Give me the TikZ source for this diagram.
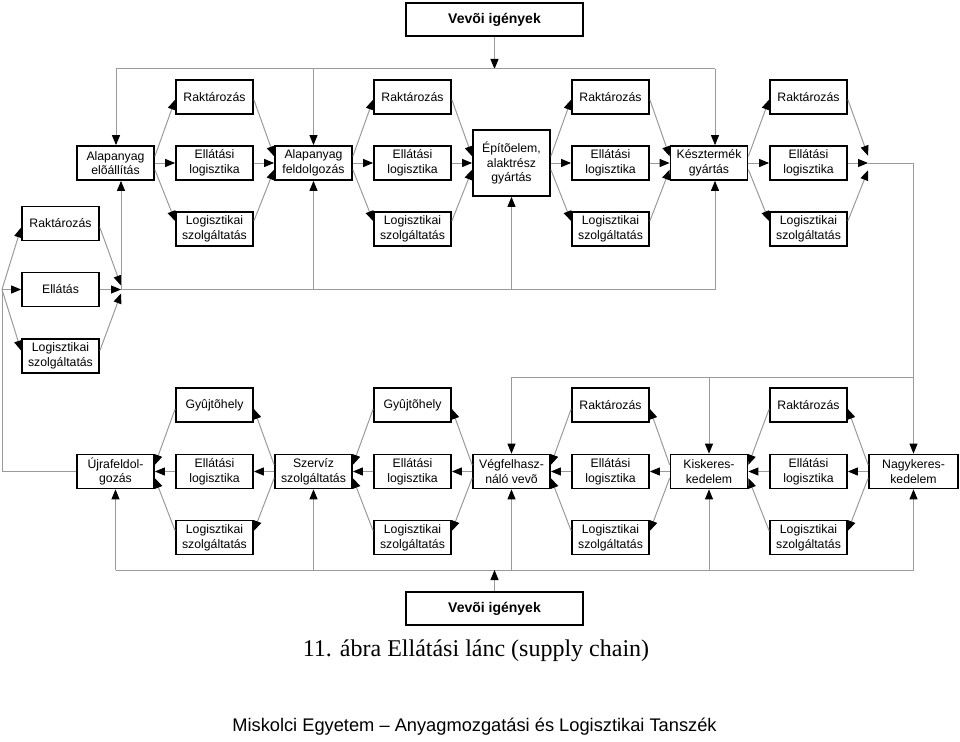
\documentclass[tikz,border=0pt]{standalone}
\usepackage{fontspec}
\setmainfont{Liberation Sans}
\newfontfamily\capserif{Liberation Serif}
\usetikzlibrary{arrows.meta}
\definecolor{lgray}{HTML}{9A9A9A}
\begin{document}
\begin{tikzpicture}[x=0.75pt,y=-0.75pt,
  box/.style={draw,line width=1.3pt,minimum width=57.75pt,minimum height=25.5pt,inner sep=0pt,align=center,font=\fontsize{9.2}{11}\selectfont},
  vbox/.style={draw,line width=2pt,minimum width=132.75pt,minimum height=24.75pt,inner sep=0pt,font=\fontsize{10.5}{12}\selectfont\bfseries},
  conn/.style={draw=lgray,line width=0.75pt},
  arr/.style={conn,-{Triangle[length=7.5pt,width=6pt,color=black]}}]
\path[use as bounding box] (0,0) rectangle (960,742);

% ---------- upper part ----------
\node[vbox] (VT) at (494.5,19.5) {Vevõi igények};

\node[box] (A1) at (115.5,163) {Alapanyag\\elõállítás};
\node[box] (E1) at (214.5,163) {Ellátási\\logisztika};
\node[box] (A2) at (313.5,163) {Alapanyag\\feldolgozás};
\node[box] (E2) at (412.5,163) {Ellátási\\logisztika};
\node[box,minimum height=49.5pt] (A3) at (511.5,163) {Építõelem,\\alaktrész\\gyártás};
\node[box] (E3) at (610.5,163) {Ellátási\\logisztika};
\node[box] (A4) at (709,163) {Késztermék\\gyártás};
\node[box] (E4) at (808.5,163) {Ellátási\\logisztika};

\node[box] (R1) at (214.5,97) {Raktározás};
\node[box] (R2) at (412.5,97) {Raktározás};
\node[box] (R3) at (610.5,97) {Raktározás};
\node[box] (R4) at (808.5,97) {Raktározás};

\node[box] (L1) at (214.5,229) {Logisztikai\\szolgáltatás};
\node[box] (L2) at (412.5,229) {Logisztikai\\szolgáltatás};
\node[box] (L3) at (610.5,229) {Logisztikai\\szolgáltatás};
\node[box] (L4) at (808.5,229) {Logisztikai\\szolgáltatás};

\node[box] (LR) at (60.5,223.5) {Raktározás};
\node[box] (LE) at (60.5,289.5) {Ellátás};
\node[box] (LL) at (60.5,356) {Logisztikai\\szolgáltatás};

% ---------- lower part ----------
\node[box] (B0) at (115.5,471.5) {Újrafeldol-\\gozás};
\node[box] (F1) at (214.5,471.5) {Ellátási\\logisztika};
\node[box] (B1) at (313.5,471.5) {Szervíz\\szolgáltatás};
\node[box] (F2) at (412.5,471.5) {Ellátási\\logisztika};
\node[box] (B2) at (511.5,471.5) {Végfelhasz-\\náló vevõ};
\node[box] (F3) at (610.5,471.5) {Ellátási\\logisztika};
\node[box] (B3) at (709,471.5) {Kiskeres-\\kedelem};
\node[box] (F4) at (808.5,471.5) {Ellátási\\logisztika};
\node[box,minimum width=66.75pt] (B4) at (913.5,471.5) {Nagykeres-\\kedelem};

\node[box] (G1) at (214.5,405) {Gyûjtõhely};
\node[box] (G2) at (412.5,405) {Gyûjtõhely};
\node[box] (G3) at (610.5,405) {Raktározás};
\node[box] (G4) at (808.5,405) {Raktározás};

\node[box] (S1) at (214.5,537.5) {Logisztikai\\szolgáltatás};
\node[box] (S2) at (412.5,537.5) {Logisztikai\\szolgáltatás};
\node[box] (S3) at (610.5,537.5) {Logisztikai\\szolgáltatás};
\node[box] (S4) at (808.5,537.5) {Logisztikai\\szolgáltatás};

\node[vbox] (VB) at (494.5,608.5) {Vevõi igények};

\node[font=\capserif\fontsize{18}{20}\selectfont] (CAP) at (476,651) {11. ábra Ellátási lánc (supply chain)};
\node[font=\fontsize{13.7}{15}\selectfont] (FOOT) at (474.5,727) {Miskolci Egyetem -- Anyagmozgatási és Logisztikai Tanszék};

% ---------- junction coordinates ----------
\coordinate (jt) at (495,69);
\coordinate (jL) at (116,69);
\coordinate (jR) at (715,69);
\coordinate (pL) at (2,289.5);
\coordinate (cL) at (121,289.5);
\coordinate (kx) at (715,289.5);
\coordinate (cR) at (868,163);
\coordinate (dM) at (913,377);
\coordinate (eY) at (0,570);

% top feedback
\draw[arr] (VT.south) -- (VT.south |- jt);
\draw[conn] (jL) -- (jR);
\draw[arr] (jL) -- (jL |- A1.north);
\draw[arr] (A2.north |- jt) -- (A2.north);
\draw[arr] (jR) -- (jR |- A4.north);

% row-1 fans
\foreach \s/\r/\e/\l/\t in {A1/R1/E1/L1/A2, A2/R2/E2/L2/A3, A3/R3/E3/L3/A4}{
  \draw[arr] ([yshift=5pt]\s.east) -- ([yshift=-2pt]\r.west);
  \draw[arr] (\s.east) -- (\e.west);
  \draw[arr] ([yshift=-5pt]\s.east) -- ([yshift=6pt]\l.west);
  \draw[arr] ([yshift=-2pt]\r.east) -- ([yshift=5pt]\t.west);
  \draw[arr] (\e.east) -- (\t.west);
  \draw[arr] ([yshift=6pt]\l.east) -- ([yshift=-5pt]\t.west);
}
\draw[arr] ([yshift=5pt]A4.east) -- ([yshift=-2pt]R4.west);
\draw[arr] (A4.east) -- (E4.west);
\draw[arr] ([yshift=-5pt]A4.east) -- ([yshift=6pt]L4.west);
\draw[arr] ([yshift=-2pt]R4.east) -- ([yshift=5.5pt]cR);
\draw[arr] (E4.east) -- (cR);
\draw[arr] ([yshift=6pt]L4.east) -- ([yshift=-5.5pt]cR);

% left loop
\draw[conn] (B0.west) -- (pL |- B0.west) -- (pL);
\draw[arr] (pL) -- ([yshift=-3pt]LR.west);
\draw[arr] (pL) -- (LE.west);
\draw[arr] (pL) -- ([yshift=4pt]LL.west);
\draw[arr] ([yshift=-3pt]LR.east) -- ([yshift=3pt]cL);
\draw[arr] (LE.east) -- (cL);
\draw[arr] ([yshift=4pt]LL.east) -- ([yshift=-3pt]cL);

% row-1 bottom feed
\draw[conn] (cL) -- (kx);
\draw[arr] (cL) -- (cL |- A1.south);
\draw[arr] (A2.south |- cL) -- (A2.south);
\draw[arr] (A3.south |- cL) -- (A3.south);
\draw[arr] (kx) -- (kx |- A4.south);

% right link down to lower part
\draw[arr] (cR) -| (B4.north);
\draw[conn] (B2.north |- dM) -- (B4.north |- dM);
\draw[arr] (B2.north |- dM) -- (B2.north);
\draw[arr] (B3.north |- dM) -- (B3.north);

% lower fans (flow right to left)
\foreach \s/\g/\f/\l/\t in {B4/G4/F4/S4/B3, B3/G3/F3/S3/B2, B2/G2/F2/S2/B1, B1/G1/F1/S1/B0}{
  \draw[arr] ([yshift=5pt]\s.west) -- ([yshift=-3pt]\g.east);
  \draw[arr] (\s.west) -- (\f.east);
  \draw[arr] ([yshift=-5pt]\s.west) -- ([yshift=5pt]\l.east);
  \draw[arr] ([yshift=-3pt]\g.west) -- ([yshift=5pt]\t.east);
  \draw[arr] (\f.west) -- (\t.east);
  \draw[arr] ([yshift=5pt]\l.west) -- ([yshift=-5pt]\t.east);
}

% bottom feedback
\draw[conn] (B0.south |- eY) -- (B4.south |- eY);
\foreach \b in {B0,B1,B2,B3,B4}{
  \draw[arr] (\b.south |- eY) -- (\b.south);
}
\draw[arr] (VB.north) -- (VB.north |- eY);
\end{tikzpicture}
\end{document}
